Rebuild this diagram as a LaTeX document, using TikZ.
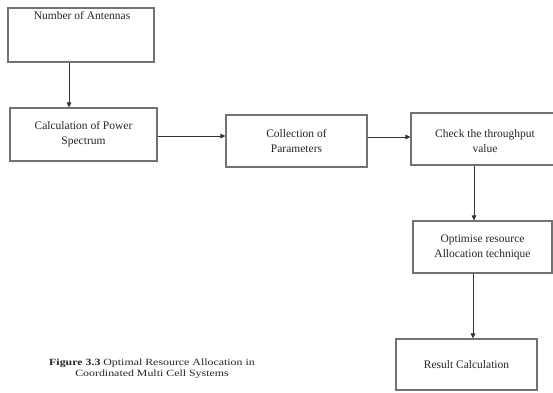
\documentclass[tikz,border=0pt]{standalone}
\usepackage{fontspec}
\setmainfont{Liberation Serif}
\usetikzlibrary{arrows.meta}
\begin{document}
\begin{tikzpicture}[x=1pt,y=-1pt,
  box/.style={draw=black!55, line width=1.1pt, fill=white, inner sep=0pt, align=center,
    font=\fontsize{11.5}{15}\selectfont, text=black!85},
  txt/.style={inner sep=0pt, align=center, font=\fontsize{11.5}{15}\selectfont, text=black!85},
  arr/.style={draw=black!80, line width=0.9pt, -{Triangle[width=4.5pt,length=5pt]}}]
\useasboundingbox[fill=white] (0,0) rectangle (553,392);
\begin{scope}
\clip (0,0) rectangle (553,392);
\node[box, minimum width=146pt, minimum height=54pt] (box1) at (81,35) {};
\node[txt, anchor=center] (box1t) at (82,16) {Number of Antennas};
\node[box, minimum width=147pt, minimum height=53pt] (box2) at (83.5,134.5) {Calculation of Power\\Spectrum};
\node[box, minimum width=141pt, minimum height=52pt] (box3) at (296.5,141) {Collection of\\Parameters};
\node[box, minimum width=151pt, minimum height=52pt] (box4) at (486.5,139) {};
\node[txt] (box4t) at (485,141) {Check the throughput\\value};
\node[box, minimum width=139pt, minimum height=52pt] (box5) at (482.5,247) {Optimise resource\\Allocation technique};
\node[box, minimum width=141pt, minimum height=51pt] (box6) at (466.5,364.5) {Result Calculation};
\end{scope}
\coordinate (a1) at (69,0);
\coordinate (a2) at (0,136);
\coordinate (a3) at (0,137);
\coordinate (a4) at (474,0);
\coordinate (a5) at (473,0);
\draw[arr] (box1.south -| a1) -- (box2.north -| a1);
\draw[arr] (box2.east |- a2) -- (box3.west |- a2);
\draw[arr] (box3.east |- a3) -- (box4.west |- a3);
\draw[arr] (box4.south -| a4) -- (box5.north -| a4);
\draw[arr] (box5.south -| a5) -- (box6.north -| a5);
\node[inner sep=0pt, align=center, font=\fontsize{9.5}{11}\selectfont, xscale=1.25, transform shape, text=black!85] (cap) at (152,369)
  {\textbf{Figure 3.3} Optimal Resource Allocation in\\Coordinated Multi Cell Systems};
\end{tikzpicture}
\end{document}
